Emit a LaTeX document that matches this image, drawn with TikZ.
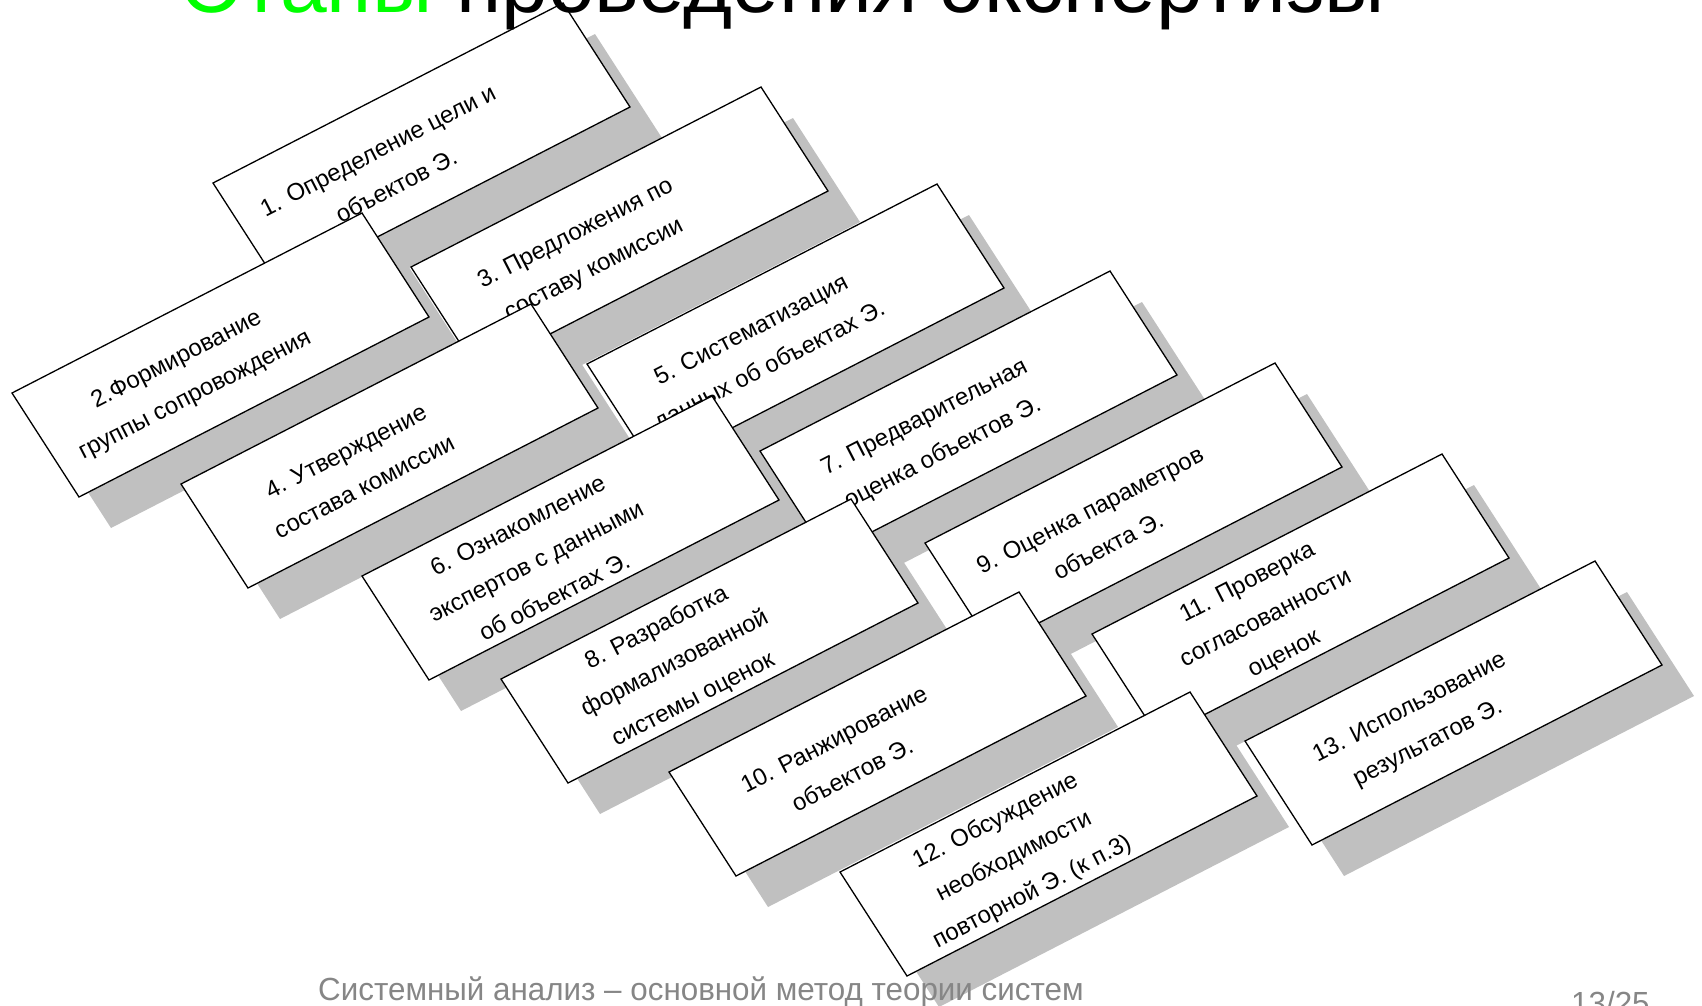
\documentclass[tikz,border=0pt]{standalone}
\usepackage{fontspec}
\setmainfont{Liberation Sans}
\definecolor{shadowgray}{RGB}{192,192,192}
\definecolor{titlegreen}{RGB}{0,255,0}
\definecolor{footgray}{RGB}{134,134,134}
\tikzset{
  stagebox/.style={draw=black, line width=1.3pt, fill=white, line join=miter},
  stageshadow/.style={fill=shadowgray},
  stagetext/.style={font=\fontsize{24}{40}\selectfont, align=center, rotate=27.2, inner sep=0pt},
  foottext/.style={anchor=base west, inner sep=0pt, text=footgray, font=\fontsize{32}{38}\selectfont, xscale=0.98},
  pics/stage/.style={code={
     \fill[stageshadow] (32,31) -- ++(350,-180) -- ++(67,104) -- ++(-350,180) -- cycle;
     \draw[stagebox] (0,0) -- ++(350,-180) -- ++(67,104) -- ++(-350,180) -- cycle;
     \node[stagetext] (-t) at (174,-15) {#1};
  }}
}
\begin{document}
\begin{tikzpicture}[x=1pt, y=-1pt]
\useasboundingbox (0,0) rectangle (1702,1005);
\clip (0,0) rectangle (1702,1005);
\pic (b1) at (213,183) {stage={1. Определение цели и\\объектов Э.}};
\pic (b2) at (12,393) {stage={2.Формирование\\группы сопровождения}};
\pic (b3) at (411,267) {stage={3. Предложения по\\составу комиссии}};
\pic (b4) at (181,484) {stage={4. Утверждение\\состава комиссии}};
\pic (b5) at (587,364) {stage={5. Систематизация\\данных об объектах Э.}};
\pic (b6) at (362,576) {stage={6. Ознакомление\\экспертов с данными\\об объектах Э.}};
\pic (b7) at (760,451) {stage={7. Предварительная\\оценка объектов Э.}};
\pic (b8) at (501,679) {stage={8. Разработка\\формализованной\\системы оценок}};
\pic (b9) at (925,543) {stage={9. Оценка параметров\\объекта Э.}};
\pic (b10) at (669,772) {stage={10. Ранжирование\\объектов Э.}};
\pic (b11) at (1092,634) {stage={11. Проверка\\согласованности\\оценок}};
\pic (b12) at (840,872) {stage={12. Обсуждение\\необходимости\\повторной Э. (к п.3)}};
\pic (b13) at (1245,741) {stage={13. Использование\\результатов Э.}};
\node[anchor=base west, inner sep=0pt, font=\fontsize{84}{90}\selectfont] (title) at (182,12)
  {\textcolor{titlegreen}{Этапы} проведения экспертизы};
\node[foottext] (footer) at (318,1000)
  {Системный анализ – основной метод теории систем};
\node[foottext] (pageno) at (1571,1014) {13/25};
\end{tikzpicture}
\end{document}
